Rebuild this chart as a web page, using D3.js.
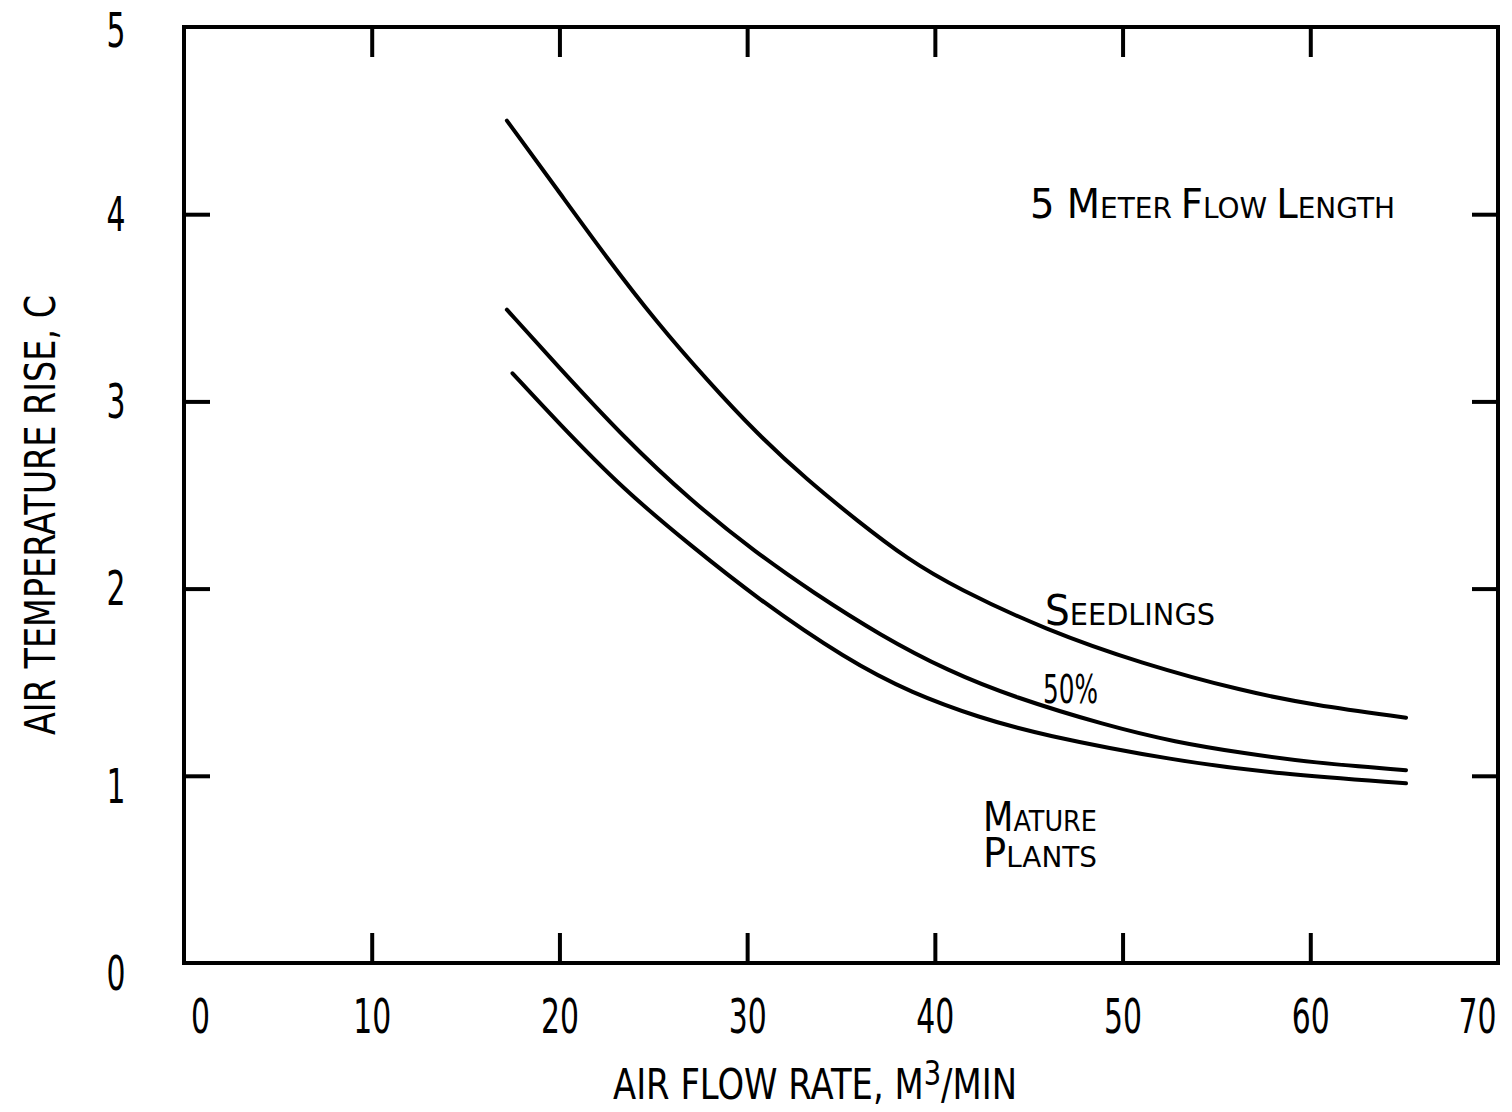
<!DOCTYPE html>
<html><head><meta charset="utf-8">
<script src="https://cdn.jsdelivr.net/npm/d3@7"></script>
<style>
body{margin:0;background:#fff}
text{font-family:"DejaVu Sans",sans-serif;fill:#000}
</style>
</head><body>
<svg id="c" width="1512" height="1112"></svg>
<script>
// ---- data ----
const xTickValues=[0,10,20,30,40,50,60,70];
const yTickValues=[0,1,2,3,4,5];
const innerX=[10,20,30,40,50,60];
const innerY=[1,2,3,4];

const seedlingsX=[17.2,19.9,22.5,25.2,27.9,30.5,33.2,35.9,38.5,41.2,45.9,51.0,56.5,60.1,65.1];
const seedlingsY=[4.50,4.13,3.77,3.42,3.11,2.83,2.58,2.36,2.16,2.00,1.78,1.60,1.45,1.38,1.31];

const halfX=[17.2,19.9,23.4,27.0,30.5,33.5,37.1,40.7,44.2,49.1,52.8,56.5,60.1,65.1];
const halfY=[3.49,3.19,2.81,2.47,2.19,1.98,1.75,1.56,1.42,1.27,1.18,1.12,1.07,1.03];

const matureX=[17.5,19.9,23.4,27.0,30.5,35.3,38.8,42.4,45.6,52.8,58.3,65.1];
const matureY=[3.15,2.89,2.53,2.23,1.95,1.62,1.44,1.31,1.22,1.08,1.01,0.96];

const seriesNames=["Seedlings","50%","Mature Plants"];

// ---- chart ----
const svg=d3.select("#c");
const x=d3.scaleLinear().domain([0,70]).range([184,1498]);
const y=d3.scaleLinear().domain([0,5]).range([963,27]);

// frame
svg.append("rect").attr("x",x(0)).attr("y",y(5))
  .attr("width",x(70)-x(0)).attr("height",y(0)-y(5))
  .attr("fill","none").attr("stroke","#000").attr("stroke-width",4);

function tickOnly(g){g.select(".domain").remove();g.selectAll(".tick line").attr("stroke","#000").attr("stroke-width",4);}
svg.append("g").attr("transform",`translate(0,${y(5)})`)
  .call(d3.axisBottom(x).tickValues(innerX).tickSize(30).tickFormat("")).call(tickOnly);
svg.append("g").attr("transform",`translate(0,${y(0)})`)
  .call(d3.axisTop(x).tickValues(innerX).tickSize(30).tickFormat("")).call(tickOnly);
svg.append("g").attr("transform",`translate(${x(0)},0)`)
  .call(d3.axisRight(y).tickValues(innerY).tickSize(26).tickFormat("")).call(tickOnly);
svg.append("g").attr("transform",`translate(${x(70)},0)`)
  .call(d3.axisLeft(y).tickValues(innerY).tickSize(26).tickFormat("")).call(tickOnly);

// tick labels
const fmt=d3.format("d");
const xl=svg.append("g").attr("transform",`translate(0,${y(0)})`)
  .call(d3.axisBottom(x).tickValues(xTickValues).tickSize(0).tickPadding(36).tickFormat(fmt));
xl.select(".domain").remove();
xl.selectAll("text").attr("font-size",48).attr("font-family","DejaVu Sans, sans-serif")
  .attr("textLength",d=>fmt(d).length*19).attr("lengthAdjust","spacingAndGlyphs")
  .attr("dx",d=>d===0?16:(d===70?-21:0));

const yl=svg.append("g").attr("transform",`translate(${x(0)},0)`)
  .call(d3.axisLeft(y).tickValues(yTickValues).tickSize(0).tickPadding(68).tickFormat(fmt));
yl.select(".domain").remove();
yl.selectAll("text").attr("font-size",48).attr("font-family","DejaVu Sans, sans-serif")
  .attr("text-anchor","middle").attr("textLength",19).attr("lengthAdjust","spacingAndGlyphs")
  .attr("dy",d=>d<=1?"0.55em":(d===5?"0.4em":"0.34em"));

// curves
const line=d3.line().x(d=>x(d[0])).y(d=>y(d[1])).curve(d3.curveBasis);
const series=[d3.zip(seedlingsX,seedlingsY),d3.zip(halfX,halfY),d3.zip(matureX,matureY)];
svg.append("g").selectAll("path").data(series).join("path")
  .attr("d",line).attr("fill","none").attr("stroke","#000")
  .attr("stroke-width",4).attr("stroke-linecap","round")
  .append("title").text((d,i)=>seriesNames[i]);

// small caps helper
function smallCaps(tx,ty,parts,big,small,len){
  const t=svg.append("text").attr("x",tx).attr("y",ty)
    .attr("textLength",len).attr("lengthAdjust","spacingAndGlyphs");
  parts.forEach(p=>t.append("tspan").attr("font-size",p[1]?big:small).text(p[0]));
  return t;
}
smallCaps(1030,218,[["5 M",1],["ETER ",0],["F",1],["LOW ",0],["L",1],["ENGTH",0]],40,29,365);
smallCaps(1045,625,[["S",1],["EEDLINGS",0]],42,31,170);
svg.append("text").attr("x",1043).attr("y",703).attr("font-size",39)
  .attr("textLength",55).attr("lengthAdjust","spacingAndGlyphs").text("50%");
smallCaps(983,831,[["M",1],["ATURE",0]],40,29,114);
smallCaps(983,867,[["P",1],["LANTS",0]],40,29,114);

// axis titles
const xt=svg.append("text").attr("x",613).attr("y",1099).attr("font-size",42)
  .attr("textLength",404).attr("lengthAdjust","spacingAndGlyphs");
xt.append("tspan").text("AIR FLOW RATE, M");
xt.append("tspan").attr("font-size",34).attr("dy",-14).text("3");
xt.append("tspan").attr("dy",14).text("/MIN");

svg.append("text").attr("transform","translate(55,515) rotate(-90)")
  .attr("text-anchor","middle").attr("font-size",42)
  .attr("textLength",440).attr("lengthAdjust","spacingAndGlyphs")
  .text("AIR TEMPERATURE RISE, C");
</script>
</body></html>
